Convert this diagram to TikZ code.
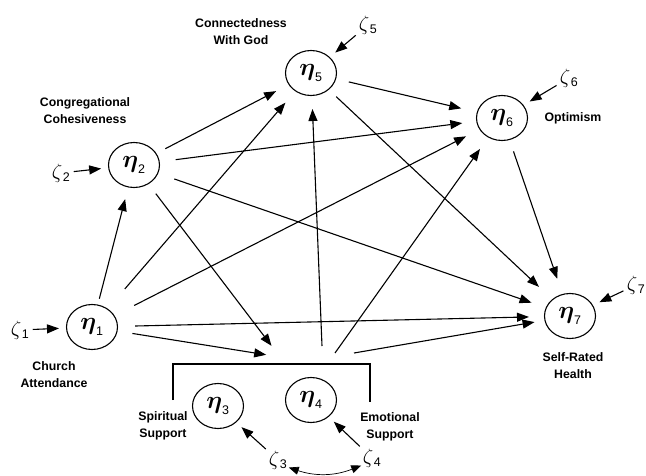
\documentclass[tikz,border=0pt]{standalone}
\usepackage{amsmath,amssymb}
\usepackage{fontspec}
\setmainfont{Liberation Sans}
\usetikzlibrary{arrows.meta,shapes.geometric}

\newcommand{\et}[1]{$\boldsymbol{\eta}_{\hbox{\normalfont\fontsize{12.5}{12}\selectfont #1}}$}
\newcommand{\zt}[1]{$\zeta_{\hbox{\normalfont\fontsize{12.5}{12}\selectfont\,#1}}$}

\begin{document}
\begin{tikzpicture}[x=1pt,y=-1pt,>={Triangle[length=12pt,width=9pt]},line width=1.1pt,
  lat/.style={draw,ellipse,minimum width=51pt,minimum height=45pt,inner sep=0pt,font=\fontsize{27}{27}\selectfont},
  lbl/.style={align=center,font=\fontsize{12.3}{17}\selectfont\bfseries},
  dist/.style={inner sep=1pt,font=\fontsize{20}{20}\selectfont},
  arr/.style={->,shorten <=12pt,shorten >=15pt},
  darr/.style={->,shorten <=2pt,shorten >=7pt}]
  \useasboundingbox (0,0) rectangle (646,476);

  % latent variables
  \node[lat] (e1) at (92,327) {\et{1}};
  \node[lat] (e2) at (134,165) {\et{2}};
  \node[lat] (e3) at (218,406) {\et{3}};
  \node[lat] (e4) at (311,400) {\et{4}};
  \node[lat] (e5) at (311,73) {\et{5}};
  \node[lat] (e6) at (502,118) {\et{6}};
  \node[lat] (e7) at (570,316) {\et{7}};

  % labels
  \node[lbl] (l1) at (54,375) {Church\\Attendance};
  \node[lbl] (l2) at (85,111) {Congregational\\Cohesiveness};
  \node[lbl] (l3) at (163,426) {Spiritual\\Support};
  \node[lbl] (l4) at (390,427) {Emotional\\Support};
  \node[lbl] (l5) at (241,32) {Connectedness\\With God};
  \node[lbl] (l6) at (573,118) {Optimism};
  \node[lbl] (l7) at (573,366) {Self-Rated\\Health};

  % disturbances
  \node[dist] (z1) at (20,330) {\zt{1}};
  \node[dist] (z2) at (61,173) {\zt{2}};
  \node[dist] (z3) at (278,460) {\zt{3}};
  \node[dist] (z4) at (372,458) {\zt{4}};
  \node[dist] (z5) at (368,25) {\zt{5}};
  \node[dist] (z6) at (569,78) {\zt{6}};
  \node[dist] (z7) at (636,285) {\zt{7}};

  % bracket round eta3 and eta4
  \draw (173,400) -- (173,364) -- (370,364) -- (370,402);
  \coordinate (j) at (280,357);
  \coordinate (s5) at (322,346);
  \coordinate (s6) at (335,353);
  \coordinate (s7) at (354,353);

  \draw[arr,shorten <=6pt,shorten >=12pt] (e1) -- (e2);
  \draw[arr,shorten <=26pt] (e1) -- (e5);
  \draw[arr,shorten <=22pt] (e1) -- (e6);
  \draw[arr,shorten <=17pt] (e1) -- (e7);
  \draw[arr,shorten <=15pt,shorten >=14pt] (e1) -- (j);
  \draw[arr,shorten <=10pt,shorten >=14pt] (e2) -- (e5);
  \draw[arr,shorten <=16pt,shorten >=14pt] (e2) -- (e6);
  \draw[arr,shorten <=17pt] (e2) -- (e7);
  \draw[arr,shorten >=14pt] (e2) -- (j);
  \draw[arr,shorten <=13pt,shorten >=16pt] (e5) -- (e6);
  \draw[arr,shorten <=10pt,shorten >=18pt] (e5) -- (e7);
  \draw[arr,shorten >=16pt] (e6) -- (e7);
  \draw[arr,shorten <=0pt,shorten >=13pt] (s5) -- (e5);
  \draw[arr,shorten <=0pt,shorten >=14pt] (s6) -- (e6);
  \draw[arr,shorten <=0pt,shorten >=10pt] (s7) -- (e7);

  \draw[darr] (z1) -- (e1);
  \draw[darr] (z2) -- (e2);
  \draw[darr] (z3) -- (e3);
  \draw[darr] (z4) -- (e4);
  \draw[darr] (z5) -- (e5);
  \draw[darr] (z6) -- (e6);
  \draw[darr] (z7) -- (e7);
  \draw[<->,line width=0.7pt,>={Triangle[length=10pt,width=8pt]}] (z3.-35) to[bend right=20] (z4.215);
\end{tikzpicture}
\end{document}
